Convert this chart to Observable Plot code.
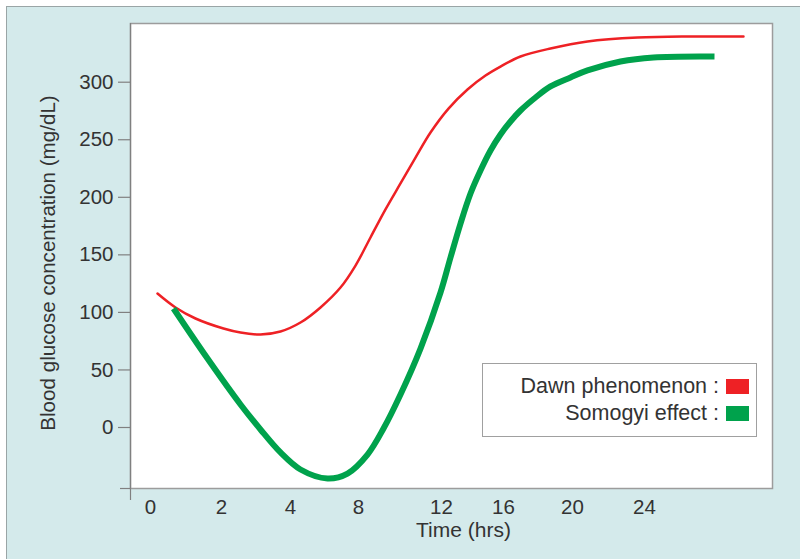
<!DOCTYPE html>
<html><head><meta charset="utf-8">
<script src="https://cdn.jsdelivr.net/npm/d3@7"></script>
<script src="https://cdn.jsdelivr.net/npm/@observablehq/plot@0.6"></script>
<style>
html,body{margin:0;padding:0;background:#fff;}
#wrap{position:relative;width:800px;height:559px;overflow:hidden;font-family:"Liberation Sans",Arial,sans-serif;}
#bg{position:absolute;left:6px;top:6px;width:800px;height:560px;background:#d4eaeb;border-left:1.5px solid #9aa5a6;border-top:1.5px solid #9aa5a6;}
#chart{position:absolute;left:0;top:0;}
#legend{position:absolute;left:482px;top:363px;width:273px;height:72px;background:#fff;border:1.5px solid #a0a0a0;}
.row{position:absolute;right:7px;height:24px;line-height:24px;display:flex;align-items:center;font-size:21.5px;color:#333;white-space:nowrap;}
.sw{display:inline-block;width:23px;height:15px;margin-left:7px;}
</style></head><body>
<div id="wrap"><div id="bg"></div><div id="chart"></div><div id="legend"></div></div>
<script>
// ---- data ----
const xTickValues = [0, 2, 4, 8, 12, 16, 20, 24];
const yTickValues = [0, 50, 100, 150, 200, 250, 300];
const yDomain = [-53, 351];

const seriesNames = ["Dawn phenomenon", "Somogyi effect"];
const seriesColors = ["#ee2125", "#00a24c"];

const dawnHours   = [0.197, 0.704, 1.268, 2.058, 2.551, 3.130, 3.710, 4.588, 5.765, 6.941, 7.824, 8.578, 9.301, 10.024, 10.747, 11.470, 12.452, 13.677, 14.839, 15.806, 16.986, 18.725, 20.833, 23.611, 26.556, 29.500];
const dawnGlucose = [116.4, 104.3, 94.7, 86.0, 82.5, 80.8, 83.4, 91.2, 104.3, 121.6, 140.7, 165.1, 189.5, 212.0, 234.5, 256.3, 277.1, 293.7, 305.8, 313.6, 322.3, 329.3, 335.4, 338.8, 339.7, 339.7];

const somogyiHours   = [0.648, 1.606, 2.551, 3.130, 3.710, 4.588, 6.176, 7.353, 8.434, 9.205, 10.024, 10.988, 11.952, 12.581, 13.226, 13.871, 14.516, 15.161, 15.806, 16.406, 16.986, 17.855, 18.725, 19.884, 20.833, 22.667, 24.500, 27.889];
const somogyiGlucose = [103.4, 59.9, 20.0, -1.7, -21.7, -36.5, -44.3, -40.0, -23.5, -0.9, 28.7, 68.6, 117.3, 147.7, 177.2, 203.3, 223.3, 240.7, 254.6, 265.9, 275.4, 286.7, 296.3, 304.1, 310.2, 318.0, 321.5, 322.3];

// ---- layout / scale configuration ----
const W = 800, H = 559;
const M = {left: 130, right: 28, top: 23, bottom: 71};
// the printed time axis is not evenly spaced: piecewise scale range for each tick
const xTickRange = [150, 221, 290, 358, 441, 503, 572, 644];
const xLeftEdge = d3.scaleLinear(xTickValues, xTickRange).invert(M.left);

const dawn = dawnHours.map((h, i) => ({h, v: dawnGlucose[i]}));
const somogyi = somogyiHours.map((h, i) => ({h, v: somogyiGlucose[i]}));

const font = "'Liberation Sans', Arial, sans-serif";
const chart = Plot.plot({
  width: W, height: H,
  marginLeft: M.left, marginRight: M.right, marginTop: M.top, marginBottom: M.bottom,
  style: {background: "transparent", fontFamily: font, fontSize: "20.5px", color: "#333", overflow: "visible"},
  x: {type: "linear", domain: xTickValues, range: xTickRange},
  y: {domain: yDomain},
  marks: [
    Plot.frame({fill: "white", stroke: "#9c9c9c", strokeWidth: 1.5}),
    Plot.axisX(xTickValues, {tickSize: 0, tickPadding: 11, label: null, fill: "#333", stroke: "none"}),
    Plot.axisX([xLeftEdge], {tickSize: 12, tickFormat: () => "", label: null, stroke: "#808080", strokeWidth: 1.2}),
    Plot.axisY(yTickValues, {tickSize: 12, tickPadding: 5, label: null, fill: "#333", stroke: "#808080", strokeWidth: 1.2}),
    Plot.axisY([yDomain[0]], {tickSize: 10, tickFormat: () => "", label: null, stroke: "#808080", strokeWidth: 1.2}),
    Plot.ruleX([xLeftEdge], {stroke: "#808080", strokeWidth: 1.2}),
    Plot.text(["Time (hrs)"], {frameAnchor: "bottom", dx: 12, dy: 48, fontSize: 21, fill: "#333"}),
    Plot.text(["Blood glucose concentration (mg/dL)"], {frameAnchor: "left", textAnchor: "middle", rotate: -90, dx: -82, dy: 7, fontSize: 20.6, fill: "#333"}),
    Plot.line(dawn, {x: "h", y: "v", stroke: seriesColors[0], strokeWidth: 2.5, curve: "catmull-rom"}),
    Plot.line(somogyi, {x: "h", y: "v", stroke: seriesColors[1], strokeWidth: 6, curve: "catmull-rom", strokeLinecap: "butt"})
  ]
});
document.getElementById("chart").appendChild(chart);

const legend = document.getElementById("legend");
seriesNames.forEach((name, i) => {
  const row = document.createElement("div");
  row.className = "row";
  row.style.top = (10 + i * 27) + "px";
  row.innerHTML = `<span>${name} :</span><span class="sw" style="background:${seriesColors[i]}"></span>`;
  legend.appendChild(row);
});
</script>
</body></html>
